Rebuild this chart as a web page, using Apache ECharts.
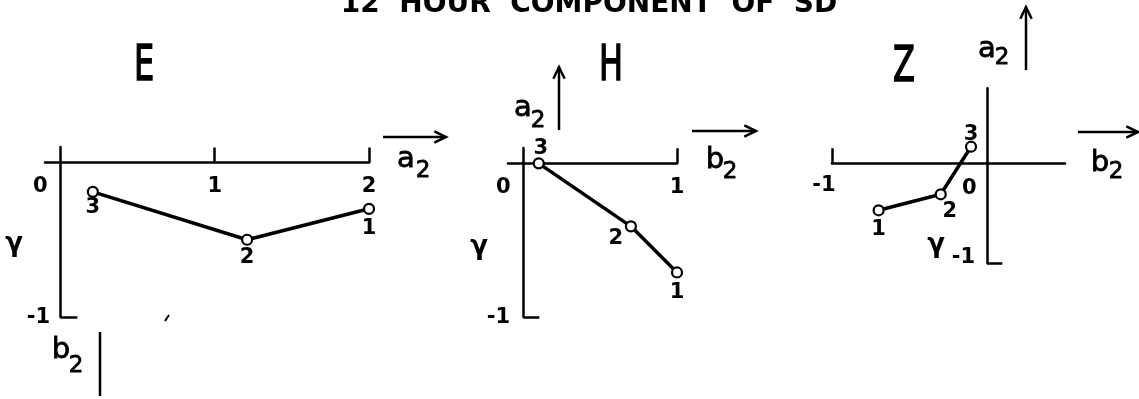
<!DOCTYPE html>
<html>
<head>
<meta charset="utf-8">
<title>12 HOUR COMPONENT OF SD</title>
<script src="https://cdn.jsdelivr.net/npm/echarts@6/dist/echarts.min.js"></script>
<style>
  html, body { margin: 0; padding: 0; background: #fff; }
  #chart { width: 1139px; height: 399px; }
</style>
</head>
<body>
<div id="chart"></div>
<script>
// Station order along each trace
const pointIds = ['1', '2', '3'];

// E component: a2 across, b2 down
const eA2 = [2.0, 1.21, 0.21];
const eB2 = [-0.30, -0.50, -0.19];

// H component: b2 across, a2 up
const hB2 = [1.0, 0.70, 0.10];
const hA2 = [-0.71, -0.41, 0.0];

// Z component: b2 across, a2 up
const zB2 = [-0.70, -0.30, -0.105];
const zA2 = [-0.47, -0.31, 0.166];

// Tick marks along each axis
const eXTicks = [1, 2];
const hXTicks = [1];
const zXTicks = [-1];
const yFootTicks = [-1];

// Labelled values along the across axis and the down axis
const eXLabels = [0, 1, 2];
const hXLabels = [0, 1];
const zXLabels = [-1, 0];
const yLabels = [-1];

const FONT = '"DejaVu Sans", "Liberation Sans", sans-serif';
const INK = '#000';

// placement of each station number relative to its circle (pixels)
const pointLabelOffsets = [
  [[0, 20], [0, 18], [0, 16]],
  [[0, 20], [-15, 12], [2, -15]],
  [[0, 19], [9, 17], [0, -12]]
];

// placement of tick labels relative to the tick position (pixels)
const xLabelOffsets = [
  { '0': [-20, 24], '1': [0, 24], '2': [0, 24] },
  { '0': [-20, 24], '1': [0, 24] },
  { '-1': [-8, 22], '0': [-18, 25] }
];
const yLabelOffsets = [
  { '-1': [-22, 1] },
  { '-1': [-25, 1] },
  { '-1': [-24, -6] }
];

const panels = [
  { xs: eA2, ys: eB2, xLabels: eXLabels },
  { xs: hB2, ys: hA2, xLabels: hXLabels },
  { xs: zB2, ys: zA2, xLabels: zXLabels }
];

function traceSeries(idx, xs, ys) {
  return {
    type: 'line',
    xAxisIndex: idx,
    yAxisIndex: idx,
    data: xs.map((x, i) => ({ value: [x, ys[i]], name: pointIds[i] })),
    symbol: 'circle',
    symbolSize: 10,
    lineStyle: { color: INK, width: 3.5 },
    itemStyle: { color: '#fff', borderColor: INK, borderWidth: 2.2 },
    label: { show: false },
    emphasis: { disabled: true },
    silent: true,
    animation: false,
    z: 5
  };
}

function xAxisFor(idx, min, max, ticks) {
  return {
    type: 'value',
    gridIndex: idx,
    min: min,
    max: max,
    axisLine: { show: true, onZero: true, lineStyle: { color: INK, width: 2.5 } },
    axisTick: { show: true, inside: true, length: 15, customValues: ticks,
                lineStyle: { color: INK, width: 2.5 } },
    axisLabel: { show: false },
    splitLine: { show: false }
  };
}

function yAxisFor(idx, min, max, footLen) {
  return {
    type: 'value',
    gridIndex: idx,
    min: min,
    max: max,
    axisLine: { show: true, onZero: true, lineStyle: { color: INK, width: 2.5 } },
    axisTick: { show: true, inside: true, length: footLen, customValues: yFootTicks,
                lineStyle: { color: INK, width: 2.5 } },
    axisLabel: { show: false },
    splitLine: { show: false }
  };
}

function text(str, x, y, size, opts) {
  opts = opts || {};
  const style = {
    text: str,
    fill: INK,
    font: (opts.weight || 'bold') + ' ' + size + 'px ' + FONT,
    align: 'center',
    verticalAlign: 'middle',
    textAlign: 'center',
    textVerticalAlign: 'middle'
  };
  if (opts.outline) {
    style.stroke = INK;
    style.lineWidth = opts.outline;
  }
  return {
    type: 'text',
    x: x,
    y: y,
    scaleX: opts.scaleX || 1,
    silent: true,
    z: 10,
    style: style
  };
}

// letter with a subscript 2 (a2 / b2)
function subscripted(letter, cx, cy, sx, sy) {
  return [
    text(letter, cx, cy, 29, { weight: 'normal', outline: 0.8 }),
    text('2', sx, sy, 23, { weight: 'normal', outline: 0.8 })
  ];
}

const STROKE = { stroke: INK, lineWidth: 2.5, fill: null };

function arrow(x1, y1, x2, y2) {
  const ang = Math.atan2(y2 - y1, x2 - x1);
  const len = 13, spread = 0.45;
  const a = [x2 - len * Math.cos(ang - spread), y2 - len * Math.sin(ang - spread)];
  const b = [x2 - len * Math.cos(ang + spread), y2 - len * Math.sin(ang + spread)];
  return [
    { type: 'line', silent: true, shape: { x1: x1, y1: y1, x2: x2, y2: y2 }, style: STROKE },
    { type: 'polyline', silent: true, shape: { points: [a, [x2, y2], b] }, style: STROKE }
  ];
}

function numText(v) {
  return String(v);
}

const chart = echarts.init(document.getElementById('chart'), null, { renderer: 'canvas' });

chart.setOption({
  backgroundColor: '#fff',
  animation: false,
  grid: [
    { left: 45, top: 147, width: 324, height: 170 },
    { left: 508, top: 148, width: 169, height: 169 },
    { left: 832, top: 88.3, width: 233, height: 175 }
  ],
  xAxis: [
    xAxisFor(0, -0.1, 2, eXTicks),
    xAxisFor(1, -0.1, 1, hXTicks),
    xAxisFor(2, -1, 0.5, zXTicks)
  ],
  yAxis: [
    yAxisFor(0, -1, 0.1, 17),
    yAxisFor(1, -1, 0.1, 16),
    yAxisFor(2, -1, 0.75, 15)
  ],
  series: panels.map((p, i) => traceSeries(i, p.xs, p.ys))
});

// Tick labels and station numbers, placed through each grid's own scales
const placed = [];
panels.forEach((p, g) => {
  p.xLabels.forEach(v => {
    const pt = chart.convertToPixel({ gridIndex: g }, [v, 0]);
    const off = xLabelOffsets[g][String(v)];
    placed.push(text(numText(v), pt[0] + off[0], pt[1] + off[1], 21));
  });
  yLabels.forEach(v => {
    const pt = chart.convertToPixel({ gridIndex: g }, [0, v]);
    const off = yLabelOffsets[g][String(v)];
    placed.push(text(numText(v), pt[0] + off[0], pt[1] + off[1], 21));
  });
  p.xs.forEach((x, i) => {
    const pt = chart.convertToPixel({ gridIndex: g }, [x, p.ys[i]]);
    const off = pointLabelOffsets[g][i];
    placed.push(text(pointIds[i], pt[0] + off[0], pt[1] + off[1], 21));
  });
});

const PANEL_LETTER = { weight: 'normal', scaleX: 0.64, outline: 1.6 };

const graphics = [].concat(
  [text('12  HOUR  COMPONENT  OF  SD', 589, 5, 28)],
  // panel letters
  [text('E', 144, 67, 50, PANEL_LETTER)],
  [text('H', 611, 67, 50, PANEL_LETTER)],
  [text('Z', 904, 68, 50, PANEL_LETTER)],
  // E panel direction markers
  arrow(383, 137, 446, 137),
  subscripted('a', 406, 159, 423, 171),
  [{ type: 'line', silent: true, shape: { x1: 100, y1: 332, x2: 100, y2: 396 }, style: STROKE }],
  subscripted('b', 61, 350, 76, 366),
  [text('\u03b3', 14, 244, 26)],
  [{ type: 'line', silent: true, shape: { x1: 165, y1: 321, x2: 169, y2: 315 }, style: { stroke: INK, lineWidth: 2 } }],
  // H panel direction markers
  arrow(559, 130, 559, 67),
  subscripted('a', 523, 108, 538, 121),
  arrow(692, 131, 756, 131),
  subscripted('b', 715, 160, 730, 172),
  [text('\u03b3', 479, 247, 26)],
  // Z panel direction markers
  arrow(1026, 70, 1026, 7),
  subscripted('a', 987, 49, 1002, 58),
  arrow(1078, 132, 1138, 132),
  subscripted('b', 1100, 163, 1116, 172),
  [text('\u03b3', 936, 245, 26)],
  placed
);

chart.setOption({ graphic: { elements: graphics } });
</script>
</body>
</html>
